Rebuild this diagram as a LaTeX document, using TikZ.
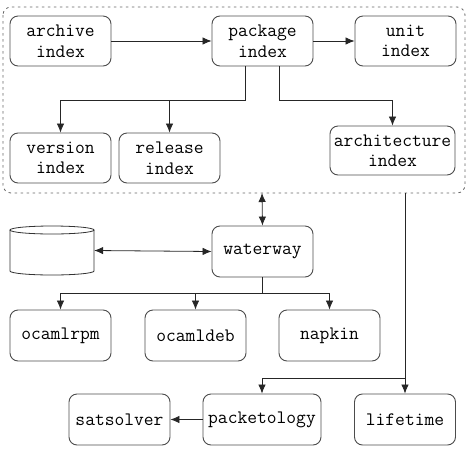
\documentclass[tikz,border=0pt]{standalone}
\usepackage{fontspec}
\usetikzlibrary{arrows.meta}
\begin{document}
\begin{tikzpicture}[x=1pt,y=-1pt,
  box/.style={draw=black!70, line width=0.9pt, rounded corners=8pt, align=center,
    font=\ttfamily\fontsize{19}{20.5}\selectfont, inner sep=0pt},
  conn/.style={draw=black!85, line width=0.8pt, -{Latex[length=9pt,width=7.5pt]}},
  dconn/.style={draw=black!85, line width=0.8pt, {Latex[length=9pt,width=7.5pt]}-{Latex[length=9pt,width=7.5pt]}},
  plain/.style={draw=black!85, line width=0.8pt}]
\useasboundingbox (0,0) rectangle (467,451);
% container
\draw[black!60, line width=0.8pt, dash pattern=on 2.5pt off 3.5pt, rounded corners=8pt] (3,7) rectangle (465,193);
\coordinate (cb) at (262,193);
\coordinate (cb2) at (405,193);
% top nodes
\node[box, minimum width=101pt, minimum height=50pt] (archive) at (60.5,41) {archive\\index};
\node[box, minimum width=101pt, minimum height=50pt] (package) at (262.5,41) {package\\index};
\node[box, minimum width=101pt, minimum height=50pt] (unit) at (405.5,41) {unit\\index};
\node[box, minimum width=101pt, minimum height=50pt] (version) at (60.5,158) {version\\index};
\node[box, minimum width=101pt, minimum height=50pt] (release) at (169.5,158) {release\\index};
\node[box, minimum width=125pt, minimum height=49pt] (arch) at (392.5,150.5) {architecture\\index};
% middle
\node[box, minimum width=101pt, minimum height=51pt] (waterway) at (262.5,251.5) {waterway};
\node[minimum width=84pt, minimum height=49pt, inner sep=0pt] (db) at (52,250.5) {};
\draw[black!80, line width=0.8pt] (10,230) -- (10,271) arc[start angle=180, end angle=360, x radius=42pt, y radius=4pt] -- (94,230);
\draw[black!80, line width=0.8pt] (52,230) ellipse[x radius=42pt, y radius=4pt];
\node[box, minimum width=101pt, minimum height=51pt] (ocamlrpm) at (60.5,335.5) {ocamlrpm};
\node[box, minimum width=101pt, minimum height=51pt] (ocamldeb) at (195.5,335.5) {ocamldeb};
\node[box, minimum width=101pt, minimum height=51pt] (napkin) at (329.5,335.5) {napkin};
% bottom
\node[box, minimum width=101pt, minimum height=51pt] (satsolver) at (119.5,419.5) {satsolver};
\node[box, minimum width=118pt, minimum height=51pt] (packetology) at (262,419.5) {packetology};
\node[box, minimum width=101pt, minimum height=51pt] (lifetime) at (405,419.5) {lifetime};
% connectors
\draw[conn] (archive) -- (package);
\draw[conn] (package) -- (unit);
\draw[plain] (package.south -| 245,0) -- (245,100) -- (60.5,100);
\draw[conn] (60.5,100) -- (version.north);
\draw[conn] (169.5,100) -- (release.north);
\draw[conn] (package.south -| 279,0) -- (279,100) -- (392.5,100) -- (arch.north);
\draw[dconn] (cb) -- (waterway.north);
\draw[dconn] (db.east) -- (waterway.west);
\draw[plain] (waterway.south) -- (262.5,293);
\draw[conn] (262.5,293) -- (60.5,293) -- (ocamlrpm.north);
\draw[conn] (195.5,293) -- (ocamldeb.north);
\draw[conn] (262.5,293) -- (329.5,293) -- (napkin.north);
\draw[conn] (cb2) -- (lifetime.north);
\draw[conn] (405,378) -- (262,378) -- (packetology.north);
\draw[conn] (packetology) -- (satsolver);
\end{tikzpicture}
\end{document}
